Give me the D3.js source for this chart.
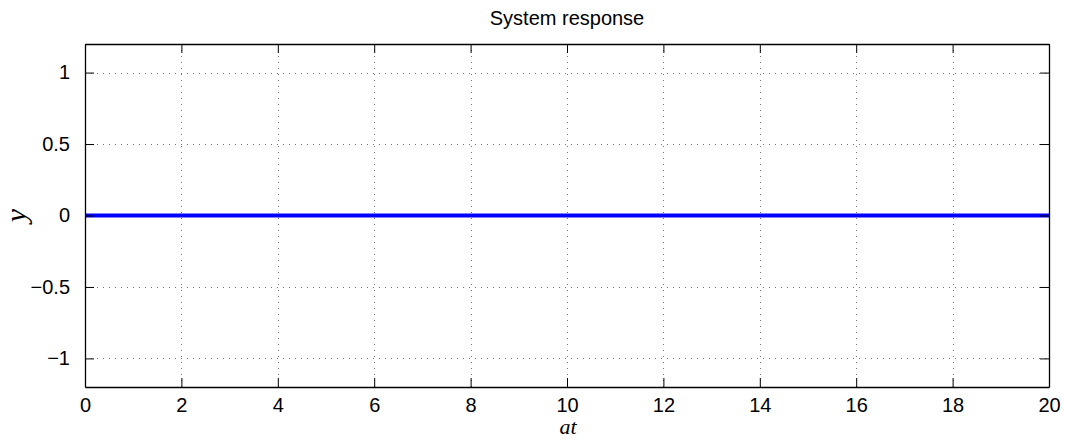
<!DOCTYPE html>
<html>
<head>
<meta charset="utf-8">
<script src="https://cdn.jsdelivr.net/npm/d3@7"></script>
<style>
  body { margin: 0; background: #fff; }
  svg { display: block; }
</style>
</head>
<body>
<svg id="chart"></svg>
<script>
// data
const timePoints = [0, 2, 4, 6, 8, 10, 12, 14, 16, 18, 20];
const responseValues = [0, 0, 0, 0, 0, 0, 0, 0, 0, 0, 0];
const xTicks = [0, 2, 4, 6, 8, 10, 12, 14, 16, 18, 20];
const yTicks = [-1, -0.5, 0, 0.5, 1];
const titleText = "System response";

const width = 1066, height = 441;
const margin = { top: 44, right: 17, bottom: 54, left: 85 };

const svg = d3.select("#chart").attr("width", width).attr("height", height);

const x = d3.scaleLinear().domain([0, 20]).range([margin.left, width - margin.right]);
const y = d3.scaleLinear().domain([-1.2, 1.2]).range([height - margin.bottom, margin.top]);

const fmt = d => (d < 0 ? "\u2212" : "") + Math.abs(d);

// Grid (dotted)
const grid = svg.append("g").attr("stroke", "#777").attr("stroke-width", 1)
  .attr("stroke-dasharray", "1,5").attr("shape-rendering", "crispEdges");
grid.selectAll("line.gx").data(xTicks.slice(1, -1)).join("line")
  .attr("x1", d => Math.round(x(d)) + 0.5).attr("x2", d => Math.round(x(d)) + 0.5)
  .attr("y1", y.range()[0]).attr("y2", y.range()[1]);
grid.selectAll("line.gy").data(yTicks).join("line")
  .attr("y1", d => Math.round(y(d)) + 0.5).attr("y2", d => Math.round(y(d)) + 0.5)
  .attr("x1", x.range()[0]).attr("x2", x.range()[1]);

// Response line
const line = d3.line().x((d, i) => x(timePoints[i])).y(d => y(d));
svg.append("path").datum(responseValues)
  .attr("fill", "none").attr("stroke", "#0000ff").attr("stroke-width", 4)
  .attr("d", line);

// Axes (inner ticks, mirrored)
const tickLen = 9;
const axisFont = "20px 'Liberation Sans', Arial, sans-serif";

const axB = svg.append("g").attr("transform", `translate(0,${y.range()[0]})`)
  .call(d3.axisBottom(x).tickValues(xTicks).tickSizeInner(-tickLen).tickSizeOuter(0).tickPadding(11).tickFormat(fmt));
const axT = svg.append("g").attr("transform", `translate(0,${y.range()[1]})`)
  .call(d3.axisTop(x).tickValues(xTicks).tickSizeInner(-tickLen).tickSizeOuter(0).tickFormat(""));
const axL = svg.append("g").attr("transform", `translate(${x.range()[0]},0)`)
  .call(d3.axisLeft(y).tickValues(yTicks).tickSizeInner(-tickLen).tickSizeOuter(0).tickPadding(15).tickFormat(fmt));
const axR = svg.append("g").attr("transform", `translate(${x.range()[1]},0)`)
  .call(d3.axisRight(y).tickValues(yTicks).tickSizeInner(-tickLen).tickSizeOuter(0).tickFormat(""));

[axB, axT, axL, axR].forEach(g => {
  g.select(".domain").attr("stroke", "#000").attr("stroke-width", 1.3);
  g.selectAll(".tick line").attr("stroke", "#000").attr("stroke-width", 1);
  g.selectAll(".tick text").attr("fill", "#000").style("font", axisFont);
});

// Title and axis labels
svg.append("text")
  .attr("x", (x.range()[0] + x.range()[1]) / 2).attr("y", 25)
  .attr("text-anchor", "middle")
  .style("font", "20px 'Liberation Sans', Arial, sans-serif")
  .text(titleText);

svg.append("text")
  .attr("x", (x.range()[0] + x.range()[1]) / 2 + 1).attr("y", 434)
  .attr("text-anchor", "middle")
  .style("font", "italic 22px 'Liberation Serif', 'Times New Roman', serif")
  .text("at");

svg.append("text")
  .attr("transform", `translate(26,${y(0)}) rotate(-90)`)
  .attr("text-anchor", "middle")
  .style("font", "italic 30px 'Liberation Serif', 'Times New Roman', serif")
  .text("y");
</script>
</body>
</html>
